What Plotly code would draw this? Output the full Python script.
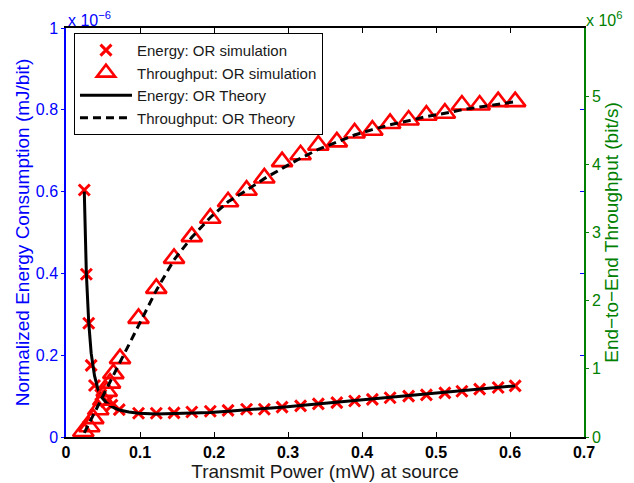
import plotly.graph_objects as go

# ---- data ----
# Transmit power (mW) of the simulation points
power_energy_sim = [0.0247, 0.0275, 0.0307, 0.034, 0.0385, 0.047, 0.055, 0.062, 0.072,
                    0.098, 0.122, 0.146, 0.170, 0.195, 0.219, 0.244, 0.268, 0.292, 0.317,
                    0.341, 0.366, 0.390, 0.414, 0.438, 0.463, 0.487, 0.512, 0.535, 0.559,
                    0.584, 0.607]
# Normalized energy consumption, in units of 1e-6 mJ/bit
energy_sim = [0.604, 0.398, 0.278, 0.175, 0.126, 0.103, 0.086, 0.078, 0.067,
              0.058, 0.058, 0.059, 0.061, 0.063, 0.065, 0.068, 0.068, 0.073, 0.076,
              0.081, 0.084, 0.088, 0.092, 0.096, 0.100, 0.103, 0.108, 0.112, 0.117,
              0.121, 0.125]

power_thr_sim = [0.0234, 0.0315, 0.0369, 0.0436, 0.0504, 0.055, 0.0595, 0.064, 0.073,
                 0.098, 0.122, 0.146, 0.170, 0.195, 0.219, 0.244, 0.268, 0.292, 0.317,
                 0.341, 0.366, 0.390, 0.414, 0.438, 0.463, 0.487, 0.512, 0.535, 0.559,
                 0.584, 0.607]
# End-to-end throughput, in units of 1e6 bit/s
thr_sim = [0.08, 0.15, 0.27, 0.40, 0.54, 0.67, 0.79, 0.93, 1.15,
           1.74, 2.18, 2.62, 2.94, 3.21, 3.45, 3.62, 3.80, 4.04, 4.14,
           4.28, 4.33, 4.46, 4.50, 4.60, 4.65, 4.72, 4.75, 4.87, 4.87,
           4.92, 4.92]

power_theory = [0.0247, 0.0275, 0.0307, 0.034, 0.0385, 0.043, 0.047, 0.055, 0.062, 0.072,
                0.085, 0.098, 0.122, 0.146, 0.170, 0.195, 0.219, 0.244, 0.268, 0.292,
                0.317, 0.341, 0.366, 0.390, 0.414, 0.438, 0.463, 0.487, 0.512, 0.535,
                0.559, 0.584, 0.607]
energy_theory = [0.600, 0.400, 0.280, 0.205, 0.150, 0.118, 0.100, 0.083, 0.074, 0.066,
                 0.061, 0.058, 0.056, 0.057, 0.058, 0.060, 0.063, 0.066, 0.070, 0.073,
                 0.077, 0.081, 0.085, 0.089, 0.093, 0.097, 0.101, 0.105, 0.109, 0.113,
                 0.117, 0.121, 0.125]
thr_theory = [0.06, 0.12, 0.19, 0.26, 0.36, 0.45, 0.53, 0.70, 0.85, 1.06,
              1.36, 1.63, 2.15, 2.60, 2.93, 3.22, 3.45, 3.62, 3.79, 3.94,
              4.09, 4.22, 4.33, 4.43, 4.51, 4.58, 4.64, 4.70, 4.75, 4.80,
              4.84, 4.88, 4.92]

x_ticks = [0, 0.1, 0.2, 0.3, 0.4, 0.5, 0.6, 0.7]
x_tick_text = ["0", "0.1", "0.2", "0.3", "0.4", "0.5", "0.6", "0.7"]
y_left_ticks = [0, 0.2, 0.4, 0.6, 0.8, 1]
y_left_text = ["0", "0.2", "0.4", "0.6", "0.8", "1"]
y_right_ticks = [0, 1, 2, 3, 4, 5]
y_right_text = ["0", "1", "2", "3", "4", "5"]

BLUE = "#0000FF"
GREEN = "#008000"
RED = "#FF0000"
FONT = "Liberation Sans, Arial, Helvetica, sans-serif"

fig = go.Figure()

fig.add_trace(go.Scatter(
    x=power_energy_sim, y=energy_sim, mode="markers", name="Energy: OR simulation",
    marker=dict(symbol="x-thin-open", size=11, color=RED, line=dict(color=RED, width=3)),
    yaxis="y"))
fig.add_trace(go.Scatter(
    x=power_thr_sim, y=thr_sim, mode="markers", name="Throughput: OR simulation",
    marker=dict(symbol="triangle-up-open", size=18, color=RED, line=dict(color=RED, width=2.6)),
    yaxis="y2"))
fig.add_trace(go.Scatter(
    x=power_theory, y=energy_theory, mode="lines", name="Energy: OR Theory",
    line=dict(color="black", width=3), yaxis="y"))
fig.add_trace(go.Scatter(
    x=power_theory, y=thr_theory, mode="lines", name="Throughput: OR Theory",
    line=dict(color="black", width=3, dash="8px,5px"), yaxis="y2"))
# empty helper trace so the mirrored blue ticks on the right side are drawn
fig.add_trace(go.Scatter(x=[None], y=[None], yaxis="y3", showlegend=False,
                         hoverinfo="skip"))

# the page body has an 8px margin, so the figure is drawn 8px smaller and offset
fig.update_layout(
    width=626, height=475,
    margin=dict(l=58, r=50, t=20, b=46, autoexpand=False),
    paper_bgcolor="white", plot_bgcolor="white",
    font=dict(family=FONT, size=16, color="black"),
    showlegend=True,
    legend=dict(x=0.0154, y=0.988, xanchor="left", yanchor="top",
                bgcolor="white", bordercolor="black", borderwidth=1,
                font=dict(size=15, color="#1a1a1a"), tracegroupgap=0,
                itemwidth=52),
    xaxis=dict(range=[0, 0.7], tickvals=x_ticks, ticktext=x_tick_text,
               ticks="inside", ticklen=5, tickwidth=1, tickcolor="black",
               showline=True, linecolor="black", linewidth=1.5, mirror="ticks",
               showgrid=False, zeroline=False, automargin=False,
               tickfont=dict(size=16, color="black", weight="bold"),
               title=dict(text="Transmit Power (mW) at source", font=dict(size=19, color="#1a1a1a"),
                          standoff=4)),
    yaxis=dict(range=[0, 1], tickvals=y_left_ticks, ticktext=y_left_text,
               ticks="outside", ticklen=3, tickcolor=BLUE,
               showline=True, linecolor=BLUE, linewidth=1.5, mirror=False,
               showgrid=False, zeroline=False, automargin=False,
               tickfont=dict(size=16, color=BLUE),
               title=dict(text="Normalized Energy Consumption (mJ/bit)",
                          font=dict(size=19, color=BLUE), standoff=1)),
    yaxis2=dict(range=[0, 6], tickvals=y_right_ticks, ticktext=y_right_text,
                overlaying="y", side="right", anchor="x",
                ticks="outside", ticklen=3, tickcolor=GREEN,
                showline=True, linecolor=GREEN, linewidth=1.5,
                showgrid=False, zeroline=False, automargin=False,
                tickfont=dict(size=16, color=GREEN),
                title=dict(text="End\u2212to\u2212End Throughput (bit/s)",
                           font=dict(size=19, color=GREEN), standoff=4)),
    yaxis3=dict(range=[0, 1], tickvals=y_left_ticks, overlaying="y", side="right", anchor="x",
                ticks="inside", ticklen=4, tickcolor=BLUE, showticklabels=False,
                showline=False, showgrid=False, zeroline=False, automargin=False),
    annotations=[
        dict(text="x 10<sup>\u22126</sup>", xref="paper", yref="paper", x=0, y=1,
             xanchor="left", yanchor="bottom", showarrow=False, yshift=-3,
             font=dict(size=16, color=BLUE)),
        dict(text="x 10<sup>6</sup>", xref="paper", yref="paper", x=1, y=1,
             xanchor="left", yanchor="bottom", showarrow=False, yshift=-3,
             font=dict(size=16, color=GREEN)),
    ],
)

fig.write_html("out.html")
